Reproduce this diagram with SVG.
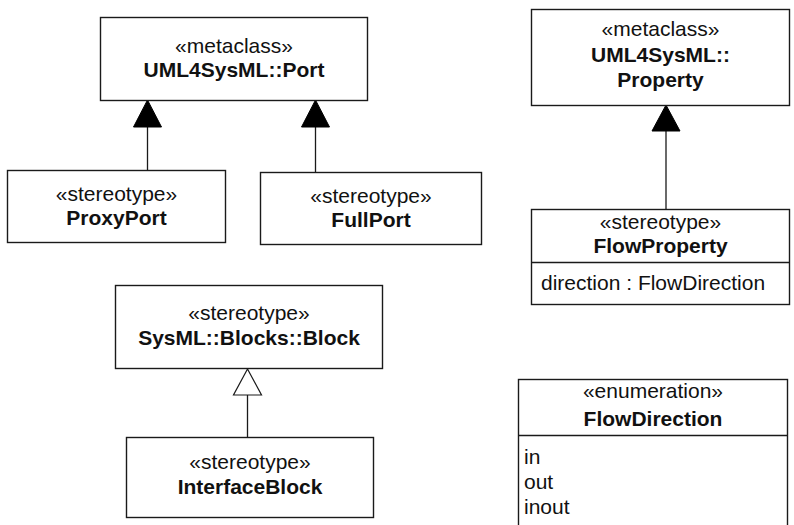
<svg xmlns="http://www.w3.org/2000/svg" width="794" height="525" viewBox="0 0 794 525">
<style>
.box{fill:#fff;stroke:#1a1a1a;stroke-width:1.4}
.ln{stroke:#1a1a1a;stroke-width:1.3;fill:none}
.t{font-family:"Liberation Sans",Arial,sans-serif;font-size:21px;fill:#111;text-anchor:middle}
.b{font-weight:bold}
.l{text-anchor:start}
.fill{fill:#000;stroke:#000;stroke-width:1}
.hollow{fill:#fff;stroke:#1a1a1a;stroke-width:1.2}
</style>
<rect width="794" height="525" fill="#fff"/>
<g id="connectors">
<line class="ln" x1="147.5" y1="127" x2="147.5" y2="170"/>
<polygon class="fill" points="147.5,100 133.5,127 161.5,127"/>
<line class="ln" x1="315.5" y1="127" x2="315.5" y2="172"/>
<polygon class="fill" points="315.5,100 301.5,127 329.5,127"/>
<line class="ln" x1="666" y1="131" x2="666" y2="209"/>
<polygon class="fill" points="666,105 652,131 680,131"/>
<line class="ln" x1="247.5" y1="395" x2="247.5" y2="437"/>
<polygon class="hollow" points="247.5,369 233.5,395 261.5,395"/>
</g>
<g id="port">
<rect class="box" x="100.5" y="17.5" width="267" height="83"/>
<text class="t" x="234" y="53">«metaclass»</text>
<text class="t b" x="234" y="77">UML4SysML::Port</text>
</g>
<g id="proxyport">
<rect class="box" x="7.5" y="170.5" width="218" height="72"/>
<text class="t" x="116.5" y="201">«stereotype»</text>
<text class="t b" x="116.5" y="225">ProxyPort</text>
</g>
<g id="fullport">
<rect class="box" x="260.5" y="172.5" width="221" height="72"/>
<text class="t" x="371" y="203">«stereotype»</text>
<text class="t b" x="371" y="227">FullPort</text>
</g>
<g id="property">
<rect class="box" x="531.5" y="9.5" width="258" height="96"/>
<text class="t" x="660.5" y="36">«metaclass»</text>
<text class="t b" x="660.5" y="62">UML4SysML::</text>
<text class="t b" x="660.5" y="87">Property</text>
</g>
<g id="flowproperty">
<rect class="box" x="531.5" y="209.5" width="258" height="95"/>
<line class="ln" x1="531.5" y1="262.5" x2="789.5" y2="262.5"/>
<text class="t" x="660.5" y="229">«stereotype»</text>
<text class="t b" x="660.5" y="253">FlowProperty</text>
<text class="t l" x="541" y="290">direction : FlowDirection</text>
</g>
<g id="block">
<rect class="box" x="115.5" y="285.5" width="267" height="83"/>
<text class="t" x="249" y="320">«stereotype»</text>
<text class="t b" x="249" y="345">SysML::Blocks::Block</text>
</g>
<g id="interfaceblock">
<rect class="box" x="126.5" y="437.5" width="247" height="80"/>
<text class="t" x="250" y="469">«stereotype»</text>
<text class="t b" x="250" y="494">InterfaceBlock</text>
</g>
<g id="flowdirection">
<rect class="box" x="518.5" y="379.5" width="269" height="160"/>
<line class="ln" x1="518.5" y1="435.5" x2="787.5" y2="435.5"/>
<text class="t" x="653" y="398">«enumeration»</text>
<text class="t b" x="653" y="426">FlowDirection</text>
<text class="t l" x="524" y="464">in</text>
<text class="t l" x="524" y="489">out</text>
<text class="t l" x="524" y="514">inout</text>
</g>
</svg>
